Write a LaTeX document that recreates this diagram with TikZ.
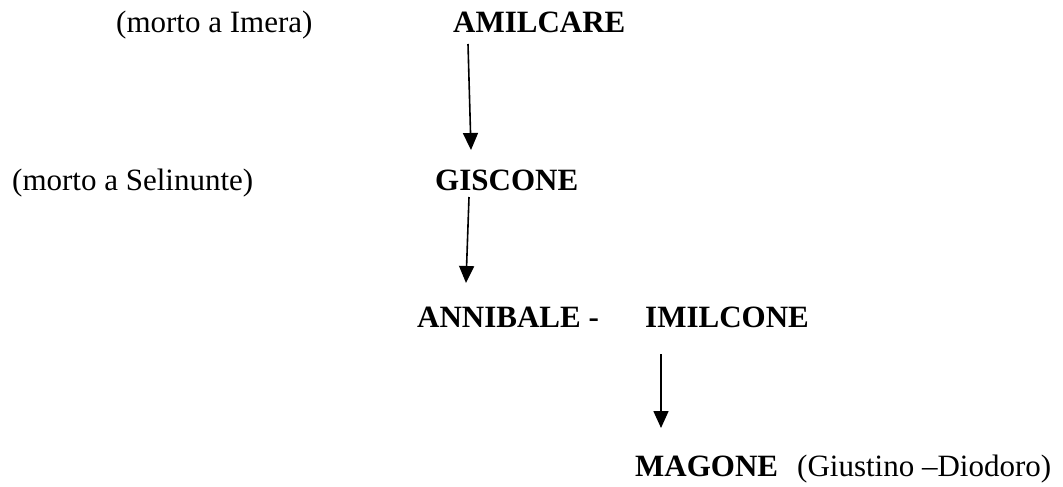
\documentclass[tikz,border=0pt]{standalone}
\usepackage{fontspec}
\setmainfont{Liberation Serif}
\usetikzlibrary{arrows.meta}
\begin{document}
\begin{tikzpicture}[x=1pt,y=-1pt,
  txt/.style={anchor=base west,inner sep=0pt,font=\fontsize{31}{36}\selectfont},
  person/.style={anchor=base west,inner sep=0pt,font=\fontsize{31}{36}\selectfont\bfseries},
  arr/.style={line width=1.6pt,-{Triangle[length=17pt,width=15pt]}}]
\useasboundingbox (0,0) rectangle (1063,487);
\node[txt] (imera) at (116,33) {(morto a Imera)};
\node[person] (amilcare) at (453,33) {AMILCARE};
\node[txt] (selinunte) at (12,190) {(morto a Selinunte)};
\node[person] (giscone) at (435,190) {GISCONE};
\node[person] (annibale) at (417,327) {ANNIBALE -};
\node[person] (imilcone) at (645,327) {IMILCONE};
\node[person] (magone) at (635,476) {MAGONE};
\node[txt] (fonti) at (797,476) {(Giustino –Diodoro)};
\coordinate (a1) at (468,44);
\coordinate (b1) at (471,150);
\coordinate (a2) at (469,197);
\coordinate (b2) at (466,283);
\coordinate (a3) at (661,354);
\coordinate (b3) at (661,428);
\draw[arr] (a1) -- (b1);
\draw[arr] (a2) -- (b2);
\draw[arr] (a3) -- (b3);
\end{tikzpicture}
\end{document}
